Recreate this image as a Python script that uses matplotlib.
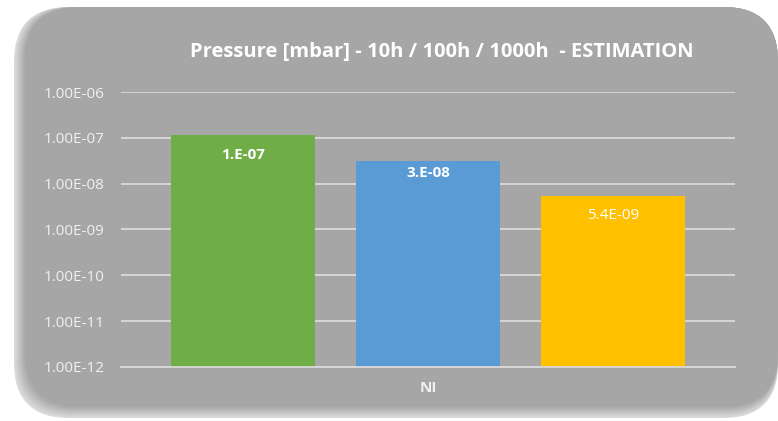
import matplotlib.pyplot as plt
from matplotlib.patches import FancyBboxPatch

# pressure estimates after 10h / 100h / 1000h
series = ['10h', '100h', '1000h']
pressure = [1.15e-7, 3.1e-8, 5.4e-9]
label_digits = [0, 0, 1]
category = 'NI'
ticks = [1e-12, 1e-11, 1e-10, 1e-9, 1e-8, 1e-7, 1e-6]
colors = ['#70ad47', '#5b9bd5', '#ffc000']

W, H = 778, 421
fig = plt.figure(figsize=(W / 100, H / 100), dpi=100)
fig.patch.set_facecolor('white')

# rounded grey panel behind the chart, with a soft edge on the left and bottom
bg = fig.add_axes([0, 0, 1, 1], zorder=0)
bg.set_xlim(0, W)
bg.set_ylim(H, 0)
bg.axis('off')
steps = 12
for i in range(steps):
    t = i / (steps - 1)
    shade = 0.86 - (0.86 - 0.65) * t
    inset = i * 1.0
    bg.add_patch(FancyBboxPatch((14 + inset, 7), 764 - inset, 411 - inset,
                                boxstyle='round,pad=0,rounding_size=55',
                                fc=(shade, shade, shade), ec='none'))

ax = fig.add_axes([121 / W, 1 - 367 / H, (735 - 121) / W, (367 - 92) / H], zorder=1)
ax.patch.set_alpha(0)
ax.set_yscale('log')
ax.set_ylim(1e-12, 1e-6)
ax.set_xlim(-0.66, 2.66)

x = range(len(series))
bars = ax.bar(x, pressure, width=0.78, color=colors, bottom=1e-12, zorder=2)

label_offsets = [-20, -12, -20]
weights = ['bold', 'bold', 'normal']
for bar, val, nd, dy, fw in zip(bars, pressure, label_digits, label_offsets, weights):
    txt = f'{val:#.{nd}E}'
    ax.annotate(txt, (bar.get_x() + bar.get_width() / 2, val),
                xytext=(0, dy), textcoords='offset pixels',
                ha='center', va='center', color='white',
                fontsize=11, fontweight=fw, family='Open Sans', zorder=3)

ax.set_yticks(ticks)
ax.set_yticklabels([f'{t:.2E}' for t in ticks])
ax.minorticks_off()
ax.tick_params(axis='y', length=0, pad=12, labelsize=11, labelcolor='#f0f0f0')
for lab in ax.get_yticklabels():
    lab.set_family('Open Sans')
ax.set_xticks([1])
ax.set_xticklabels([category])
ax.tick_params(axis='x', length=0, pad=10, labelsize=11, labelcolor='#f0f0f0')
for lab in ax.get_xticklabels():
    lab.set_family('Open Sans')
    lab.set_fontweight('bold')

ax.grid(axis='y', color='#d9d9d9', linewidth=1.3, zorder=1)
for side in ['top', 'right', 'left']:
    ax.spines[side].set_visible(False)
ax.spines['bottom'].set_color('#d9d9d9')
ax.spines['bottom'].set_linewidth(1.3)

fig.text(442 / W, 1 - 52 / H, 'Pressure [mbar] - 10h / 100h / 1000h  - ESTIMATION',
         ha='center', va='center', color='white', fontsize=14.5,
         fontweight='bold', family='Open Sans')

fig.savefig('out.png', dpi=100)
